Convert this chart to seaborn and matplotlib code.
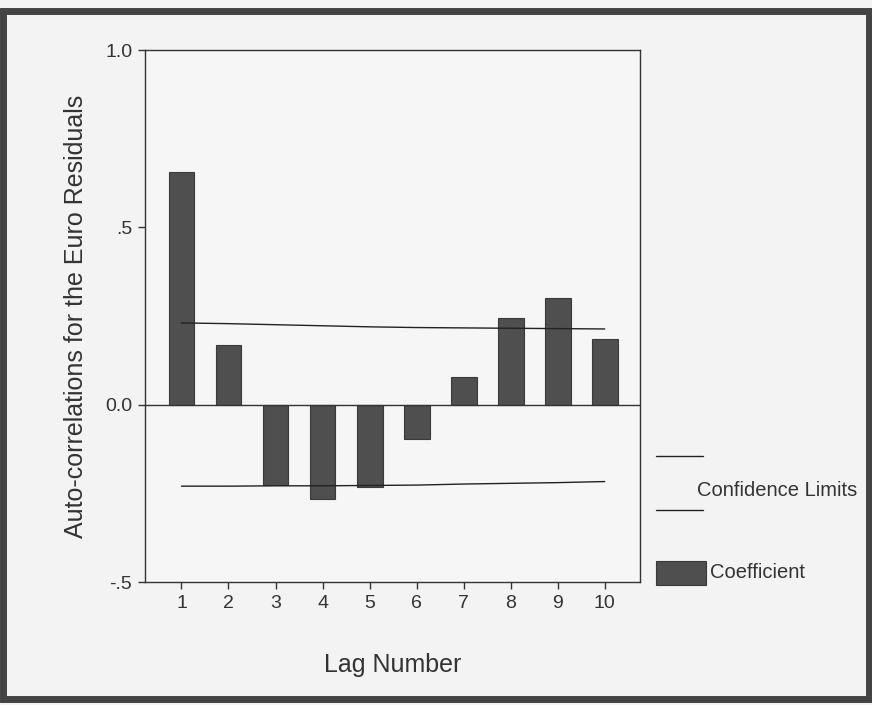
import numpy as np
import pandas as pd
import matplotlib
matplotlib.use("Agg")
import matplotlib.pyplot as plt
import seaborn as sns
from matplotlib.lines import Line2D
from matplotlib.patches import Rectangle

# values
lags = [1, 2, 3, 4, 5, 6, 7, 8, 9, 10]
coef = [0.656, 0.170, -0.227, -0.265, -0.232, -0.095, 0.080, 0.245, 0.300, 0.186]
upper = [0.231, 0.229, 0.226, 0.223, 0.220, 0.218, 0.217, 0.216, 0.215, 0.214]
lower = [-0.229, -0.229, -0.228, -0.228, -0.227, -0.226, -0.223, -0.221, -0.219, -0.216]
ytick_vals = [-0.5, 0.0, 0.5, 1.0]
ytick_labels = ["-.5", "0.0", ".5", "1.0"]

df = pd.DataFrame({"lag": lags, "coef": coef, "upper": upper, "lower": lower})

sns.set_theme(style="white")
plt.rcParams["font.family"] = ["Liberation Sans", "DejaVu Sans"]

fig = plt.figure(figsize=(8.72, 7.05), dpi=100, facecolor="#f3f3f3")
ax = fig.add_axes([0.166, 0.174, 0.568, 0.755])
ax.set_facecolor("#f6f6f6")

sns.barplot(data=df, x="lag", y="coef", native_scale=True, width=0.55,
            color="#4f4f4f", saturation=1, edgecolor="#3a3a3a", linewidth=0.8, ax=ax)
sns.lineplot(data=df, x="lag", y="upper", color="#222222", linewidth=1.0, ax=ax)
sns.lineplot(data=df, x="lag", y="lower", color="#222222", linewidth=1.0, ax=ax)
ax.axhline(0, color="#333333", linewidth=1.0)

ax.set_xlim(0.22, 10.75)
ax.set_ylim(-0.5, 1.0)
ax.set_xticks(lags)
ax.set_xticklabels([str(l) for l in lags], fontsize=14, color="#333333")
ax.set_yticks(ytick_vals)
ax.set_yticklabels(ytick_labels, fontsize=14, color="#333333")
ax.tick_params(axis="both", direction="out", length=5, width=1, color="#333333",
               left=True, bottom=True, pad=4)
for s in ax.spines.values():
    s.set_color("#333333")
    s.set_linewidth(1.0)

ax.set_xlabel("Lag Number", fontsize=18, color="#333333", labelpad=30)
ax.set_ylabel("Auto-correlations for the Euro Residuals", fontsize=18, color="#333333", labelpad=12)

# legend drawn like the SPSS one
fig.add_artist(Line2D([656/872, 703/872], [1-456/705, 1-456/705], color="#222222", lw=1.0))
fig.add_artist(Line2D([656/872, 703/872], [1-510/705, 1-510/705], color="#222222", lw=1.0))
fig.text(697/872, 1-491/705, "Confidence Limits", fontsize=14.5, color="#333333", va="center")
fig.add_artist(Rectangle((656/872, 1-585/705), 50/872, 24/705, facecolor="#4f4f4f",
                         edgecolor="#3a3a3a", lw=0.8))
fig.text(710/872, 1-573/705, "Coefficient", fontsize=14.5, color="#333333", va="center")

# scanned frame border
fig.add_artist(Rectangle((0.004, 0.008), 0.992, 0.977, fill=False, edgecolor="#444444", lw=5))

fig.savefig("out.png", dpi=100, facecolor=fig.get_facecolor())
